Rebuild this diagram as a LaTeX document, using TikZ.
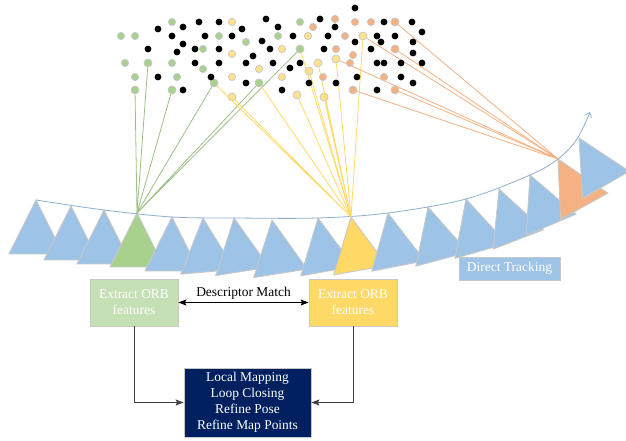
\documentclass[tikz,border=0pt]{standalone}
\usepackage{fontspec}
\setmainfont{Liberation Serif}
\usetikzlibrary{arrows.meta}

\definecolor{camblue}{HTML}{9DC3E6}
\definecolor{camgreen}{HTML}{A9D18E}
\definecolor{camyellow}{HTML}{FFD966}
\definecolor{camorange}{HTML}{F4B183}
\definecolor{ptyellow}{HTML}{FFE38A}
\definecolor{boxgreen}{HTML}{C5E0B4}
\definecolor{navy}{HTML}{002060}
\definecolor{edgegray}{HTML}{C8C8C8}
\definecolor{linkgray}{HTML}{404040}

\tikzset{
  pics/cam/.style={code={
    \filldraw[fill=#1, draw=edgegray, line width=0.9bp] (0,0) -- (-27,54) -- (27,54) -- cycle;
  }},
}

\begin{document}
\begin{tikzpicture}[x=1bp, y=-1bp,
    font=\fontsize{13.5}{16}\selectfont,
    gpt/.style={circle, fill=camgreen, draw=edgegray, line width=0.8bp, inner sep=0pt, minimum size=8bp},
    ypt/.style={circle, fill=ptyellow, draw=edgegray, line width=0.8bp, inner sep=0pt, minimum size=8bp},
    opt/.style={circle, fill=camorange, draw=edgegray, line width=0.8bp, inner sep=0pt, minimum size=8bp},
    gline/.style={draw=camgreen!92!black, line width=0.8bp, line join=round},
    yline/.style={draw=camyellow, line width=0.8bp, line join=round},
    oline/.style={draw=camorange, line width=0.8bp, line join=round},
    box/.style={draw=edgegray, line width=0.8bp, text=white, align=center, inner sep=0pt},
    link/.style={draw=linkgray, line width=1bp},
  ]
  \useasboundingbox (0,0) rectangle (626,441);

  % camera poses along the track
  \pic[rotate=0]  at (36,200)  {cam=camblue};
  \pic[rotate=0]  at (71,206)  {cam=camblue};
  \pic[rotate=0]  at (104,210) {cam=camblue};
  \pic[rotate=0]  at (137,213) {cam=camgreen};
  \pic[rotate=0]  at (172,217) {cam=camblue};
  \pic[rotate=5]  at (203,218) {cam=camblue};
  \pic[rotate=9]  at (234,218) {cam=camblue};
  \pic[rotate=9]  at (272,220) {cam=camblue};
  \pic[rotate=10] at (318,218) {cam=camblue};
  \pic[rotate=10] at (351,217) {cam=camyellow};
  \pic[rotate=11] at (388,213) {cam=camblue};
  \pic[rotate=15] at (428,207) {cam=camblue};
  \pic[rotate=16] at (466,199) {cam=camblue};
  \pic[rotate=21] at (499,189) {cam=camblue};
  \pic[rotate=23] at (530,175) {cam=camblue};
  \pic[rotate=29] at (558,159) {cam=camorange};
  \pic[rotate=30] at (579,138) {cam=camblue};

  \draw[camblue!90!black, line width=0.8bp, -{Straight Barb[length=4bp, width=7bp]}]
    plot[smooth, tension=0.55] coordinates {(36,200) (104,210) (172,217) (234,218) (318,218)
      (388,213) (466,199) (530,175) (558,159) (577,139) (590,112)};

  \coordinate (camG) at (137,213);
  \coordinate (camY) at (351,217);
  \coordinate (camO) at (558,159);

  % matched map points
  \node[gpt] (g1) at (135,90) {};
  \node[gpt] (g2) at (148,63) {};
  \node[gpt] (g3) at (172,90) {};
  \node[gpt] (g4) at (214,83) {};
  \node[gpt] (g5) at (259,83) {};
  \node[gpt] (g6) at (300,49) {};
  \node[ypt] (y1) at (232,97) {};
  \node[ypt] (y2) at (297,95) {};
  \node[ypt] (y3) at (309,71) {};
  \node[ypt] (y4) at (318,63) {};
  \node[ypt] (y5) at (324,97) {};
  \node[ypt] (y6) at (336,59) {};
  \node[ypt] (y7) at (363,36) {};
  \node[opt] (o1) at (395,22) {};
  \node[opt] (o2) at (395,49) {};
  \node[opt] (o3) at (353,90) {};
  \node[opt] (o4) at (395,90) {};

  \draw[gline] (g1) -- (camG) -- (g2);
  \draw[gline] (g3) -- (camG) -- (g4);
  \draw[gline] (g5) -- (camG) -- (g6);

  \draw[yline] (g4) -- (camY) -- (y1);
  \draw[yline] (g5) -- (camY) -- (g6);
  \draw[yline] (y2) -- (camY) -- (y3);
  \draw[yline] (y4) -- (camY) -- (y5);
  \draw[yline] (y6) -- (camY) -- (y7);

  \draw[oline] (o1) -- (camO) -- (o2);
  \draw[oline] (o3) -- (camO) -- (o4);
  \draw[oline] (y6) -- (camO) -- (y7);

  % other map points
  \foreach \p in {(172,22),(300,22),(121,36),(135,36),(219,36),(246,42),(278,36),(203,49),
      (125,63),(172,63),(203,69),(135,77),(177,77)}
    \filldraw[fill=camgreen, draw=edgegray, line width=0.8bp] \p circle[radius=3.6bp];
  \foreach \p in {(232,22),(308,36),(232,54),(282,49),(259,69),(232,77),(282,77)}
    \filldraw[fill=ptyellow, draw=edgegray, line width=0.8bp] \p circle[radius=3.6bp];
  \foreach \p in {(313,27),(335,19),(355,22),(371,22),(345,36),(336,49),(353,55),(350,63),
      (323,77),(384,77)}
    \filldraw[fill=camorange, draw=edgegray, line width=0.8bp] \p circle[radius=3.6bp];
  \foreach \p in {(355,8),(158,29),(183,27),(199,22),(219,22),(242,29),(266,19),(278,27),
      (320,19),(335,27),(384,22),(412,22),(422,32),(172,36),(205,36),(232,36),(262,41),
      (293,36),(328,36),(355,42),(377,36),(381,42),(395,36),(413,42),(148,49),(183,44),
      (177,52),(195,49),(219,49),(253,56),(270,49),(324,49),(371,49),(413,53),(195,63),
      (219,63),(246,63),(273,63),(300,63),(377,63),(384,63),(401,63),(422,63),(290,68),
      (158,77),(211,77),(357,77),(401,77),(246,83),(309,83),(336,83),(413,83),(183,90),
      (282,90),(377,90)}
    \fill \p circle[radius=3.4bp];

  % processing boxes
  \node[box, fill=camblue, minimum width=101bp, minimum height=23bp] (track) at (509.5,268.5) {Direct Tracking};
  \node[box, fill=boxgreen, minimum width=88bp, minimum height=47bp] (orbG) at (134,302.5) {Extract ORB\\features};
  \node[box, fill=camyellow, minimum width=88bp, minimum height=47bp] (orbY) at (353,302.5) {Extract ORB\\features};
  \node[box, fill=navy, minimum width=127bp, minimum height=69bp] (backend) at (247.5,402.5)
    {Local Mapping\\Loop Closing\\Refine Pose\\Refine Map Points};

  \draw[black, line width=1bp, {Stealth[length=8bp, width=6bp, inset=1.5bp]}-{Stealth[length=8bp, width=6bp, inset=1.5bp]}]
    (orbG) -- node[above, inner sep=2.5bp] {Descriptor Match} (orbY);
  \draw[link, -{Stealth[length=8bp, width=6bp, inset=1.5bp]}] (orbG) |- (backend);
  \draw[link, -{Stealth[length=8bp, width=6bp, inset=1.5bp]}] (orbY) |- (backend);
\end{tikzpicture}
\end{document}
